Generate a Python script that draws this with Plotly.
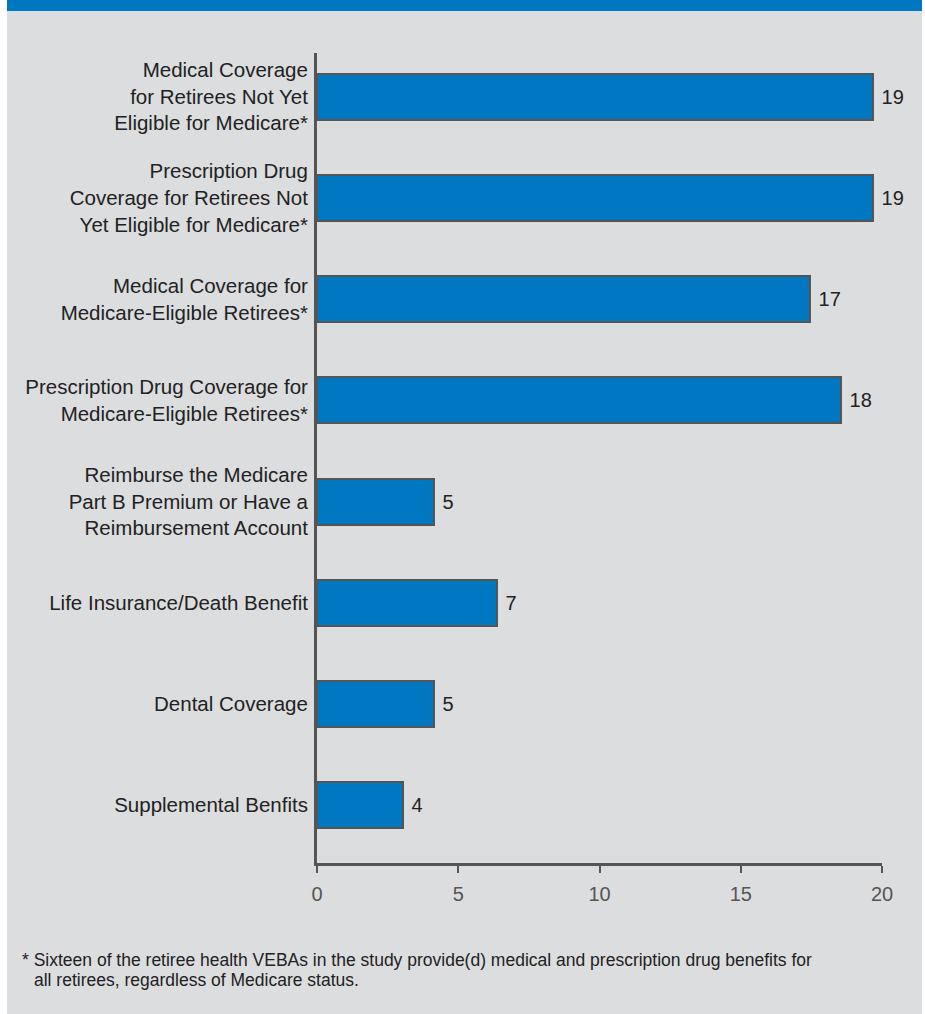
import plotly.graph_objects as go

# ---------------- data ----------------
categories = [
    "Medical Coverage<br>for Retirees Not Yet<br>Eligible for Medicare*",
    "Prescription Drug<br>Coverage for Retirees Not<br>Yet Eligible for Medicare*",
    "Medical Coverage for<br>Medicare-Eligible Retirees*",
    "Prescription Drug Coverage for<br>Medicare-Eligible Retirees*",
    "Reimburse the Medicare<br>Part B Premium or Have a<br>Reimbursement Account",
    "Life Insurance/Death Benefit",
    "Dental Coverage",
    "Supplemental Benfits",
]
# bar lengths as drawn in the picture (read against the 0-20 axis)
bar_lengths = [19.67, 19.67, 17.45, 18.55, 4.14, 6.36, 4.14, 3.03]
# numbers printed next to the bars
value_labels = ["19", "19", "17", "18", "5", "7", "5", "4"]
x_ticks = [0, 5, 10, 15, 20]
footnote_lines = [
    "* Sixteen of the retiree health VEBAs in the study provide(d) medical and prescription drug benefits for",
    "all retirees, regardless of Medicare status.",
]

# ---------------- layout constants ----------------
W, H = 925, 1014
L, R, T, B = 317, 43, 53, 151
PW, PH = W - L - R, H - T - B
BG = "#dcdddf"
BLUE = "#0077c1"
LINE = "#555555"
FONT = "Liberation Sans, Arial, Helvetica, sans-serif"


def px_x(p):
    return (p - L) / PW


def px_y(p):
    return (T + PH - p) / PH


fig = go.Figure()
fig.add_trace(
    go.Bar(
        y=categories,
        x=bar_lengths,
        orientation="h",
        width=0.455,
        marker=dict(color=BLUE, line=dict(color=LINE, width=2)),
        text=["\u00a0" + t for t in value_labels],
        textposition="outside",
        textfont=dict(size=20, color="#222222", family=FONT),
        constraintext="none",
        cliponaxis=False,
        hoverinfo="skip",
    )
)

shapes = [
    # white side strips
    dict(type="rect", xref="paper", yref="paper", x0=px_x(0), x1=px_x(7),
         y0=px_y(H), y1=px_y(0), fillcolor="white", line=dict(width=0), layer="below"),
    dict(type="rect", xref="paper", yref="paper", x0=px_x(922), x1=px_x(W),
         y0=px_y(H), y1=px_y(0), fillcolor="white", line=dict(width=0), layer="below"),
    # top blue band
    dict(type="rect", xref="paper", yref="paper", x0=px_x(7), x1=px_x(922),
         y0=px_y(11), y1=px_y(0), fillcolor=BLUE, line=dict(width=0), layer="below"),
]

annotations = []
for line, px, py in zip(footnote_lines, [20, 32], [960, 980]):
    annotations.append(
        dict(
            text=line,
            xref="paper", yref="paper",
            x=px_x(px), y=px_y(py),
            xanchor="left", yanchor="middle",
            showarrow=False,
            font=dict(size=17.5, color="#222222", family=FONT),
        )
    )

fig.update_layout(
    width=W,
    height=H,
    margin=dict(l=L, r=R, t=T, b=B, pad=0),
    paper_bgcolor=BG,
    plot_bgcolor=BG,
    showlegend=False,
    bargap=0,
    font=dict(family=FONT, color="#222222"),
    shapes=shapes,
    annotations=annotations,
    xaxis=dict(
        range=[0, 20],
        tickvals=x_ticks,
        ticktext=[str(v) for v in x_ticks],
        ticks="outside",
        ticklen=7,
        tickwidth=2,
        tickcolor=LINE,
        showline=True,
        linecolor=LINE,
        linewidth=3,
        showgrid=False,
        zeroline=False,
        tickfont=dict(size=20, color="#555555", family=FONT),
        ticklabelstandoff=4,
        fixedrange=True,
    ),
    yaxis=dict(
        type="category",
        categoryorder="array",
        categoryarray=categories,
        range=[7.57, -0.43],
        showline=True,
        linecolor=LINE,
        linewidth=3,
        showgrid=False,
        zeroline=False,
        ticks="",
        tickfont=dict(size=20.5, color="#222222", family=FONT),
        ticklabelstandoff=2,
        fixedrange=True,
    ),
)

fig.write_html("out.html")
